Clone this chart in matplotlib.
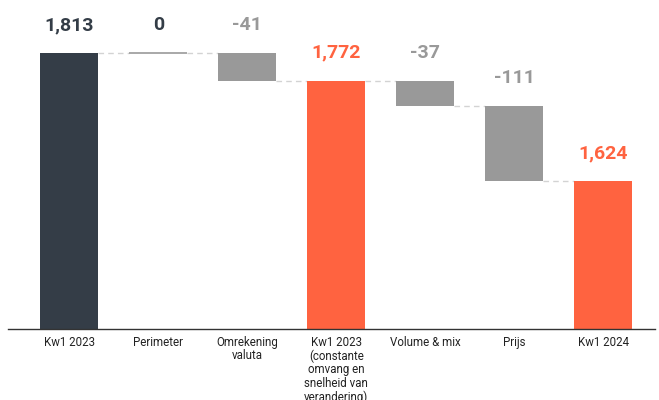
import numpy as np
import matplotlib.pyplot as plt

plt.rcParams['font.family'] = ['Roboto', 'DejaVu Sans']

categories = ["Kw1 2023", "Perimeter", "Omrekening\nvaluta",
              "Kw1 2023\n(constante\nomvang en\nsnelheid van\nverandering)",
              "Volume & mix", "Prijs", "Kw1 2024"]
values = [1813, 0, -41, 1772, -37, -111, 1624]
is_total = [True, False, False, True, False, False, True]
labels = ["1,813", "0", "-41", "1,772", "-37", "-111", "1,624"]

dark = "#343d47"
orange = "#ff6340"
grey = "#999999"
bar_colors = [dark, grey, grey, orange, grey, grey, orange]
label_colors = [dark, dark, grey, orange, grey, grey, orange]

# waterfall geometry
bottoms, heights, levels = [], [], []
running = 0
for v, tot in zip(values, is_total):
    if tot:
        running = v
        bottoms.append(0)
        heights.append(v)
    else:
        start = running
        running = running + v
        bottoms.append(min(start, running))
        heights.append(abs(v))
    levels.append(running)

fig = plt.figure(figsize=(6.59, 4.0), dpi=100)
ax = fig.add_axes([0.012, 0.178, 0.982, 0.822])
x = np.arange(len(values))
w = 0.65

ymin, ymax = 1406, 1891
for i in range(len(values)):
    if heights[i] == 0:
        ax.hlines(levels[i], x[i] - w / 2, x[i] + w / 2, color=grey, lw=1.2, zorder=3)
    else:
        b = bottoms[i] if not is_total[i] else ymin - 50
        h = heights[i] if not is_total[i] else values[i] - b
        ax.bar(x[i], h, bottom=b, width=w, color=bar_colors[i], zorder=2)
    top = levels[i] if is_total[i] else max(bottoms[i] + heights[i], levels[i])
    ax.annotate(labels[i], (x[i], top), xytext=(0, 16.5), textcoords="offset points",
                ha="center", va="baseline", fontsize=14, fontweight="bold",
                color=label_colors[i])
    if i < len(values) - 1:
        ax.plot([x[i] + w / 2, x[i + 1] - w / 2], [levels[i], levels[i]],
                ls=(0, (4, 3)), color="#d3d3d3", lw=1, zorder=1)

ax.set_xlim(-0.69, 6.58)
ax.set_ylim(ymin, ymax)
ax.set_xticks(x)
ax.set_xticklabels(categories, fontsize=8.3, linespacing=1.05, color="#222222")
ax.tick_params(axis="x", length=0, pad=5)
ax.set_yticks([])
for s in ["top", "left", "right"]:
    ax.spines[s].set_visible(False)
ax.spines["bottom"].set_color("#333333")
ax.spines["bottom"].set_linewidth(1)

fig.savefig("out.png", dpi=100)
